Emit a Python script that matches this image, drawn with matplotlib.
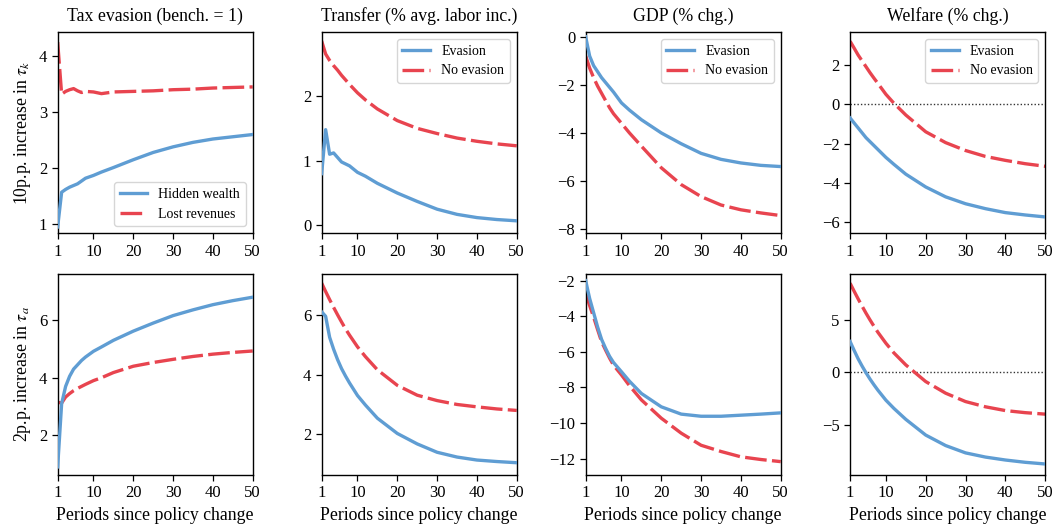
import matplotlib
matplotlib.use("Agg")
import matplotlib.pyplot as plt
from matplotlib.ticker import FuncFormatter

plt.rcParams["font.family"] = ["Liberation Serif", "DejaVu Serif"]
plt.rcParams["mathtext.fontset"] = "stix"

# Periods at which each path is recorded
periods = [1, 2, 3, 4, 5, 6, 7, 8, 10, 12, 15, 20, 25, 30, 35, 40, 45, 50]

# --- 10p.p. increase in tau_k ---
hidden_wealth_k = [0.95, 1.57, 1.62, 1.66, 1.69, 1.72, 1.77, 1.82, 1.87, 1.93, 2.01, 2.15, 2.28, 2.38, 2.46, 2.52, 2.56, 2.60]
lost_revenues_k = [4.25, 3.32, 3.37, 3.40, 3.42, 3.38, 3.35, 3.37, 3.36, 3.33, 3.36, 3.37, 3.38, 3.40, 3.41, 3.43, 3.44, 3.45]
transfer_ev_k = [0.80, 1.48, 1.10, 1.12, 1.05, 0.98, 0.95, 0.92, 0.82, 0.76, 0.65, 0.50, 0.37, 0.25, 0.17, 0.12, 0.09, 0.07]
transfer_noev_k = [2.85, 2.65, 2.55, 2.47, 2.40, 2.32, 2.25, 2.18, 2.05, 1.94, 1.80, 1.62, 1.50, 1.42, 1.35, 1.30, 1.26, 1.23]
gdp_ev_k = [0.00, -0.80, -1.20, -1.45, -1.70, -1.90, -2.10, -2.30, -2.75, -3.05, -3.45, -4.00, -4.45, -4.85, -5.10, -5.25, -5.35, -5.40]
gdp_noev_k = [-0.80, -1.30, -1.70, -2.05, -2.35, -2.65, -2.95, -3.20, -3.60, -4.00, -4.55, -5.45, -6.15, -6.65, -7.00, -7.20, -7.33, -7.44]
welfare_ev_k = [-0.70, -0.95, -1.20, -1.45, -1.70, -1.90, -2.10, -2.30, -2.70, -3.05, -3.55, -4.20, -4.70, -5.05, -5.30, -5.50, -5.62, -5.72]
welfare_noev_k = [3.19, 2.85, 2.50, 2.20, 1.90, 1.60, 1.32, 1.05, 0.50, 0.05, -0.55, -1.40, -1.95, -2.35, -2.65, -2.85, -3.02, -3.15]

# --- 2p.p. increase in tau_a ---
hidden_wealth_a = [0.90, 3.10, 3.70, 4.05, 4.30, 4.45, 4.60, 4.72, 4.92, 5.07, 5.30, 5.62, 5.90, 6.16, 6.36, 6.54, 6.68, 6.80]
lost_revenues_a = [3.15, 3.12, 3.33, 3.45, 3.55, 3.63, 3.70, 3.77, 3.90, 4.00, 4.18, 4.40, 4.53, 4.64, 4.74, 4.82, 4.88, 4.93]
transfer_ev_a = [6.10, 5.95, 5.25, 4.85, 4.50, 4.20, 3.95, 3.72, 3.30, 2.98, 2.54, 2.03, 1.68, 1.40, 1.24, 1.14, 1.09, 1.05]
transfer_noev_a = [7.06, 6.78, 6.51, 6.25, 6.00, 5.76, 5.53, 5.32, 4.93, 4.60, 4.16, 3.64, 3.31, 3.13, 3.00, 2.92, 2.85, 2.80]
gdp_ev_a = [-2.00, -3.00, -3.80, -4.60, -5.30, -5.80, -6.25, -6.60, -7.12, -7.65, -8.34, -9.09, -9.50, -9.62, -9.62, -9.56, -9.50, -9.43]
gdp_noev_a = [-2.70, -3.40, -4.05, -4.75, -5.43, -5.90, -6.35, -6.75, -7.30, -7.90, -8.70, -9.73, -10.57, -11.25, -11.60, -11.90, -12.05, -12.17]
welfare_ev_a = [2.93, 2.10, 1.30, 0.60, -0.05, -0.65, -1.20, -1.72, -2.67, -3.45, -4.50, -6.00, -7.00, -7.70, -8.10, -8.38, -8.60, -8.76]
welfare_noev_a = [8.50, 7.75, 7.02, 6.32, 5.64, 5.00, 4.39, 3.81, 2.77, 1.85, 0.70, -0.89, -2.00, -2.80, -3.30, -3.66, -3.86, -4.00]

col_titles = ["Tax evasion (bench. = 1)", "Transfer (% avg. labor inc.)", "GDP (% chg.)", "Welfare (% chg.)"]
row_labels = [r"10p.p. increase in $\tau_k$", r"2p.p. increase in $\tau_a$"]
xticks = [1, 10, 20, 30, 40, 50]

rows = [
    [(hidden_wealth_k, lost_revenues_k), (transfer_ev_k, transfer_noev_k),
     (gdp_ev_k, gdp_noev_k), (welfare_ev_k, welfare_noev_k)],
    [(hidden_wealth_a, lost_revenues_a), (transfer_ev_a, transfer_noev_a),
     (gdp_ev_a, gdp_noev_a), (welfare_ev_a, welfare_noev_a)],
]
ylims = [
    [(0.84, 4.43), (-0.12, 2.99), (-8.17, 0.2), (-6.54, 3.66)],
    [(0.62, 7.61), (0.64, 7.37), (-12.92, -1.62), (-9.81, 9.39)],
]
yticks = [
    [[1, 2, 3, 4], [0, 1, 2], [-8, -6, -4, -2, 0], [-6, -4, -2, 0, 2]],
    [[2, 4, 6], [2, 4, 6], [-12, -10, -8, -6, -4, -2], [-5, 0, 5]],
]

blue = "#5f9dd3"
red = "#e8444f"


def minus_fmt(v, pos):
    return ("\u2212%g" % abs(v)) if v < 0 else "%g" % v


fig = plt.figure(figsize=(10.56, 5.31), dpi=100)
lefts = [0.0546, 0.3046, 0.5546, 0.805]
bottoms = [0.561, 0.1055]
w, h = 0.1847, 0.3787

for r in range(2):
    for c in range(4):
        ax = fig.add_axes([lefts[c], bottoms[r], w, h])
        s1, s2 = rows[r][c]
        if c == 0:
            labels = ("Hidden wealth", "Lost revenues")
        else:
            labels = ("Evasion", "No evasion")
        if c == 3:
            ax.axhline(0, color="#333333", lw=1.0, ls=(0, (1, 1.5)), zorder=1)
        ax.plot(periods, s1, color=blue, lw=2.4, label=labels[0], zorder=3)
        ax.plot(periods, s2, color=red, lw=2.4, dashes=(6.5, 1.6), label=labels[1], zorder=2)
        ax.set_xlim(1, 50)
        ax.set_ylim(*ylims[r][c])
        ax.set_xticks(xticks)
        ax.set_yticks(yticks[r][c])
        ax.yaxis.set_major_formatter(FuncFormatter(minus_fmt))
        ax.tick_params(labelsize=12, length=4, width=0.9, direction="out")
        for sp in ax.spines.values():
            sp.set_linewidth(1.0)
        if r == 0:
            ax.set_title(col_titles[c], fontsize=12.8, pad=8)
            loc = "lower right" if c == 0 else "upper right"
            ax.legend(loc=loc, fontsize=10, frameon=True, handlelength=2.0)
        else:
            ax.set_xlabel("Periods since policy change", fontsize=12.8)
        if c == 0:
            ax.set_ylabel(row_labels[r], fontsize=12.8)

fig.savefig("out.png", dpi=100)
